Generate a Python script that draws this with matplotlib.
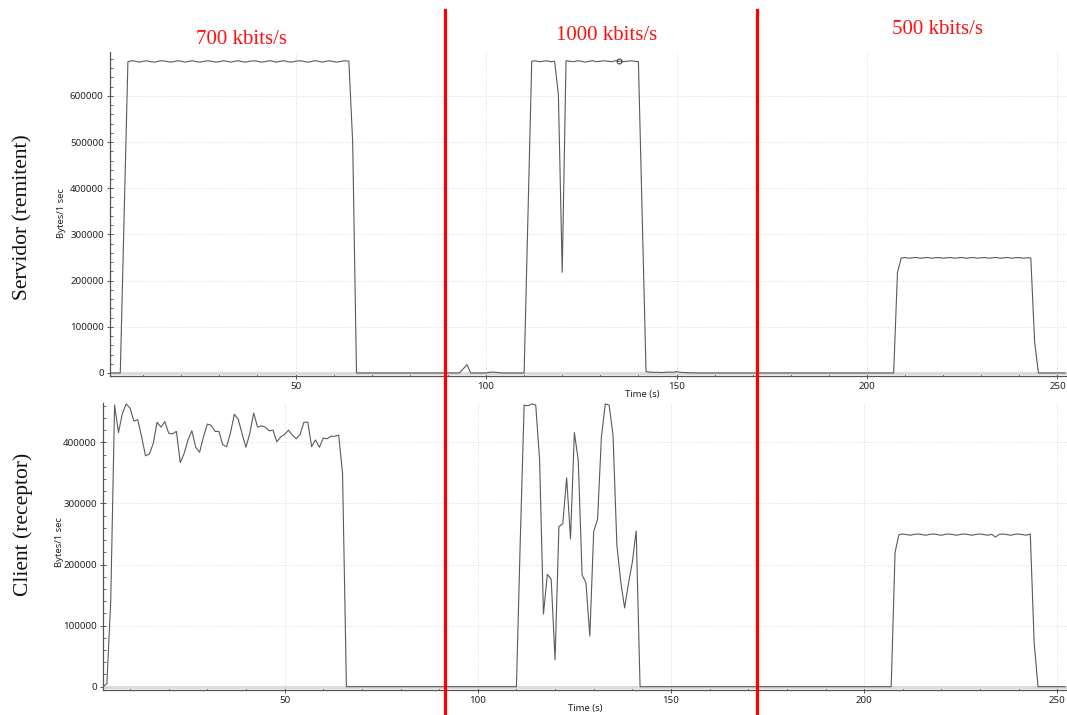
import numpy as np
import matplotlib
matplotlib.use("Agg")
import matplotlib.pyplot as plt
from matplotlib.lines import Line2D
from matplotlib.ticker import MultipleLocator

# ---------------- data (bytes per 1 s interval) ----------------
server_start = 1
server_plateau1 = [674000, 676000, 675000, 673000, 675000, 676000, 674000, 673000, 675000, 676000,
                   675000, 673000, 674000, 676000, 675000, 673000, 675000, 676000, 674000, 673000,
                   675000, 676000, 675000, 673000, 674000, 676000, 675000, 673000, 675000, 676000,
                   674000, 673000, 675000, 676000, 675000, 673000, 674000, 676000, 675000, 673000,
                   675000, 676000, 674000, 673000, 675000, 676000, 675000, 673000, 674000, 676000,
                   675000, 673000, 675000, 676000, 674000, 673000, 675000, 676000, 675000]
server_plateau2a = [675000, 676000, 674000, 675000, 676000, 674000, 675000]
server_plateau2b = [676000, 675000, 674000, 676000, 675000, 673000, 675000, 676000, 674000, 675000,
                    676000, 675000, 674000, 676000, 675000, 674000, 675000, 676000, 675000, 674000]
server_plateau3 = [249000, 250000, 248500, 249500, 250000, 248500, 249500, 250000, 248500, 249500,
                   250000, 248500, 249500, 250000, 248500, 249500, 250000, 248500, 249500, 250000,
                   248500, 249500, 250000, 248500, 249500, 250000, 248500, 249500, 250000, 248500,
                   249500, 250000, 248500, 249500, 249000]
server_bytes = ([0] * 4 + [340000] + server_plateau1 + [500000, 0] + [0] * 26
                + [0, 9000, 18000, 0] + [0] * 4 + [1500, 2000, 1000] + [0] * 7
                + [340000] + server_plateau2a + [602000, 218000] + server_plateau2b
                + [340000, 3000]
                + [2000, 1500, 1500, 1000, 1500, 2000, 1500, 3000, 1500, 1000, 500, 500, 0]
                + [0] * 52 + [218000] + server_plateau3 + [67000] + [0] * 8)
server_time = np.arange(server_start, server_start + len(server_bytes))
server_marker_time = 135

client_start = 3
client_plateau1 = [461000, 416000, 447000, 463000, 456000, 435000, 437000, 409000, 378000, 381000,
                   398000, 433000, 425000, 434000, 415000, 414000, 418000, 367000, 382000, 404000,
                   419000, 392000, 384000, 409000, 430000, 428000, 418000, 418000, 396000, 393000,
                   416000, 446000, 438000, 414000, 392000, 415000, 448000, 425000, 427000, 425000,
                   419000, 420000, 401000, 409000, 413000, 420000, 412000, 406000, 413000, 433000,
                   433000, 393000, 404000, 392000, 407000, 406000, 410000, 410000, 412000, 349000]
client_burst2 = [461000, 460000, 463000, 461000, 371000, 119000, 184000, 176000, 44000, 262000,
                 267000, 342000, 242000, 416000, 371000, 183000, 170000, 83000, 254000, 274000,
                 409000, 463000, 461000, 412000, 232000, 172000, 129000, 169000, 204000, 255000]
client_plateau3 = [249000, 250000, 249000, 248000, 249500, 250000, 249000, 248000, 249500, 250000,
                   249000, 248000, 249500, 250000, 249000, 248000, 249500, 250000, 249000, 248000,
                   249500, 250000, 249000, 248000, 249500, 245000, 249500, 250000, 249000, 248000,
                   249500, 250000, 249000, 248000, 250000]
client_bytes = ([0, 5000, 140000] + client_plateau1 + [0] + [0] * 43 + [0, 240000]
                + client_burst2 + [0] + [0] * 65 + [220000] + client_plateau3 + [72000] + [0] * 8)
client_time = np.arange(client_start, client_start + len(client_bytes))

rate_labels = ["700 kbits/s", "1000 kbits/s", "500 kbits/s"]
row_labels = ["Servidor (remitent)", "Client (receptor)"]
x_label = "Time (s)"
y_label = "Bytes/1 sec"

# ---------------- figure ----------------
W, H = 1067, 715
fig = plt.figure(figsize=(W / 100, H / 100), dpi=100)
fig.patch.set_facecolor("white")

def px_axes(left, top, right, bottom):
    return fig.add_axes([left / W, 1 - bottom / H, (right - left) / W, (bottom - top) / H])

ax_top = px_axes(110, 52, 1067, 376)
ax_bot = px_axes(103, 403, 1067, 690)

line_col = "#5a5a5a"
tick_font = dict(family="Noto Sans", size=6.8, color="#222222")

def style(ax):
    for s in ("top", "right"):
        ax.spines[s].set_visible(False)
    for s in ("left", "bottom"):
        ax.spines[s].set_color("#555555")
        ax.spines[s].set_linewidth(0.9)
    ax.xaxis.set_major_locator(MultipleLocator(50))
    ax.xaxis.set_minor_locator(MultipleLocator(10))
    ax.yaxis.set_major_locator(MultipleLocator(100000))
    ax.yaxis.set_minor_locator(MultipleLocator(20000))
    ax.tick_params(which="major", direction="inout", length=5, width=0.7, color="#555555",
                   labelsize=7, labelcolor="#222222", pad=2)
    ax.tick_params(which="minor", direction="in", length=2.5, width=0.6, color="#555555")
    ax.grid(True, which="major", linestyle=(0, (1, 2)), color="#d0d0d0", linewidth=0.6)
    ax.axhline(0, color="#dcdcdc", linewidth=2.2, zorder=1)
    ax.set_axisbelow(True)

ax_top.plot(server_time, server_bytes, color=line_col, linewidth=0.8, zorder=3)
mi = list(server_time).index(server_marker_time)
ax_top.plot([server_time[mi]], [server_bytes[mi]], "o", ms=3.5, mfc="none", mec="#444444",
            mew=0.8, zorder=4)
ax_top.set_xlim(1.3, 252.5)
ax_top.set_ylim(-6500, 695000)
style(ax_top)

ax_bot.plot(client_time, client_bytes, color=line_col, linewidth=0.8, zorder=3)
ax_bot.set_xlim(3.0, 252.5)
ax_bot.set_ylim(-5400, 464500)
style(ax_bot)

for ax in (ax_top, ax_bot):
    for lab in ax.get_xticklabels() + ax.get_yticklabels():
        lab.set_family("Noto Sans")
        lab.set_fontweight("medium")

# axis labels
fig.text(642 / W, 1 - 395 / H, x_label, ha="center", va="center", **tick_font)
fig.text(585 / W, 1 - 708 / H, x_label, ha="center", va="center", **tick_font)
fig.text(62 / W, 1 - 213 / H, y_label, ha="center", va="center", rotation=90, **tick_font)
fig.text(60 / W, 1 - 542 / H, y_label, ha="center", va="center", rotation=90, **tick_font)

# big row labels
serif = ["Liberation Serif", "DejaVu Serif"]
fig.text(23 / W, 1 - 217 / H, row_labels[0], ha="center", va="center", rotation=90,
         family=serif, size=15.5, color="#111111")
fig.text(23 / W, 1 - 524 / H, row_labels[1], ha="center", va="center", rotation=90,
         family=serif, size=15.5, color="#111111")

# red rate annotations
red = "#ff1010"
fig.text(242 / W, 1 - 39 / H, rate_labels[0], ha="center", va="center", family=serif,
         size=15, color=red)
fig.text(607 / W, 1 - 36 / H, rate_labels[1], ha="center", va="center", family=serif,
         size=15, color=red)
fig.text(937 / W, 1 - 30 / H, rate_labels[2], ha="center", va="center", family=serif,
         size=15, color=red)

for xp in (445, 757):
    fig.add_artist(Line2D([xp / W, xp / W], [0, 1 - 10 / H], transform=fig.transFigure,
                          color="#ff0000", linewidth=2.3, zorder=10))

fig.savefig("out.png", dpi=100, facecolor="white")
